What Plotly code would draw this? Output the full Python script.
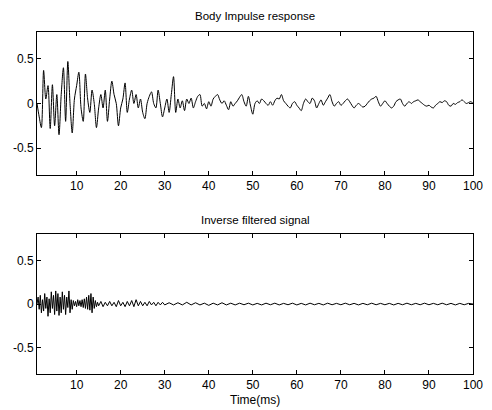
import numpy as np
import plotly.graph_objects as go
from plotly.subplots import make_subplots

# ---- data ----
# Body impulse response, sampled every 0.5 ms from 1 ms to 100 ms
t_top_start, t_top_step = 1.0, 0.5
body_response = [
    0.0, -0.15, -0.27, 0.37, 0.05, 0.2, -0.28, 0.21, -0.25, 0.1,
    -0.35, 0.1, 0.4, -0.2, 0.47, 0.0, -0.33, 0.05, 0.2, 0.35,
    -0.05, -0.2, 0.33, 0.05, -0.1, 0.15, 0.0, -0.27, -0.05, 0.1,
    -0.05, 0.15, -0.2, 0.05, 0.25, 0.1, 0.0, -0.25, -0.05, 0.05,
    0.23, -0.1, 0.05, 0.15, 0.0, 0.1, -0.05, 0.05, -0.1, -0.17,
    0.0, 0.08, 0.13, 0.0, -0.05, 0.15, 0.0, -0.15, -0.05, 0.05,
    -0.1, 0.1, 0.3, -0.1, 0.05, -0.05, 0.03, -0.08, 0.05, 0.0,
    0.06, -0.05, 0.02, 0.08, 0.1, -0.03, 0.0, -0.06, 0.02, -0.03,
    0.05, 0.08, 0.1, 0.04, 0.0, 0.03, -0.02, -0.07, 0.02, -0.03,
    0.0, 0.03, 0.07, 0.1, 0.02, -0.03, 0.08, -0.03, -0.12, 0.0,
    0.03, 0.0, 0.05, 0.03, 0.0, -0.02, 0.02, -0.02, 0.03, 0.06,
    0.05, 0.1, 0.03, 0.0, -0.03, -0.05, 0.0, 0.02, -0.02, -0.05,
    -0.08, 0.0, 0.05, 0.02, 0.0, 0.06, 0.03, -0.05, 0.0, 0.04,
    -0.02, 0.02, 0.06, 0.1, 0.02, -0.03, 0.0, 0.02, -0.02, 0.0,
    0.03, 0.05, 0.02, -0.02, -0.05, -0.02, 0.0, -0.02, -0.04, -0.03,
    0.0, 0.03, 0.05, 0.06, 0.08, 0.02, -0.03, 0.0, 0.03, 0.0,
    -0.03, -0.05, -0.03, 0.02, 0.04, 0.05, 0.0, -0.03, 0.0, 0.02,
    0.0, 0.02, 0.03, 0.04, 0.02, 0.0, -0.02, -0.03, -0.02, -0.04,
    -0.05, -0.02, 0.0, 0.02, 0.01, 0.03, 0.02, -0.02, -0.03, 0.0,
    -0.01, 0.01, 0.02, 0.04, 0.02, 0.0, 0.01, 0.02, 0.0,
]

# Inverse filtered signal: 1-15 ms every 0.25 ms, 15.5-30 ms every 0.5 ms, 31-100 ms every 1 ms
inv_seg1 = [
    0.0, 0.08, -0.06, 0.1, -0.1, 0.05, -0.08, 0.12, -0.05, 0.08,
    -0.14, 0.06, -0.1, 0.14, -0.05, 0.1, -0.12, 0.15, -0.08, 0.12,
    -0.13, 0.08, -0.1, 0.14, -0.06, 0.1, -0.12, 0.08, -0.04, 0.15,
    -0.1, 0.05, -0.06, 0.04, -0.02, 0.03, -0.03, 0.05, -0.02, 0.04,
    -0.03, 0.05, -0.04, 0.06, -0.05, 0.08, -0.06, 0.1, -0.07, 0.12,
    -0.1, 0.08, -0.05, 0.04, -0.03, 0.02, -0.02,
]
inv_seg2 = [
    0.03, -0.03, 0.02, -0.02, 0.03, -0.02, 0.02, -0.03, 0.04, -0.02,
    0.02, -0.03, 0.03, -0.02, 0.04, -0.03, 0.05, -0.02, 0.03, -0.02,
    0.02, -0.02, 0.03, -0.01, 0.02, -0.02, 0.02, -0.01, 0.02, -0.01,
]
inv_seg3 = [
    0.015, -0.01, 0.015, -0.01, 0.02, -0.01, 0.015, -0.01, 0.01, -0.015,
    0.01, -0.01, 0.015, -0.01, 0.01, -0.01, 0.01, -0.008, 0.01, -0.01,
    0.008, -0.01, 0.01, -0.008, 0.01, -0.01, 0.008, -0.008, 0.01, -0.01,
    0.008, -0.01, 0.01, -0.008, 0.008, -0.01, 0.01, -0.008, 0.008, -0.008,
    0.01, -0.008, 0.008, -0.01, 0.008, -0.008, 0.01, -0.008, 0.008, -0.008,
    0.008, -0.01, 0.008, -0.008, 0.01, -0.008, 0.008, -0.008, 0.01, -0.008,
    0.008, -0.008, 0.01, -0.008, 0.008, -0.01, 0.008, -0.008, 0.008, 0.0,
]

x_ticks = [10, 20, 30, 40, 50, 60, 70, 80, 90, 100]
y_ticks = [-0.5, 0, 0.5]
y_tick_labels = ["-0.5", "0", "0.5"]
titles = ["Body Impulse response", "Inverse filtered signal"]
x_label = "Time(ms)"

# ---- build ----
t_top = t_top_start + t_top_step * np.arange(len(body_response))
t_inv = np.concatenate([
    1.0 + 0.25 * np.arange(len(inv_seg1)),
    15.5 + 0.5 * np.arange(len(inv_seg2)),
    31.0 + 1.0 * np.arange(len(inv_seg3)),
])
inv_signal = inv_seg1 + inv_seg2 + inv_seg3

FONT = "Liberation Sans, Arial, sans-serif"

fig = make_subplots(rows=2, cols=1, vertical_spacing=0.17)
fig.add_trace(go.Scatter(x=t_top, y=body_response, mode="lines",
                         line=dict(color="black", width=1, shape="spline", smoothing=0.8),
                         showlegend=False), row=1, col=1)
fig.add_trace(go.Scatter(x=t_inv, y=inv_signal, mode="lines",
                         line=dict(color="black", width=1), showlegend=False), row=2, col=1)

axis_common = dict(showline=True, linecolor="black", linewidth=1, mirror="ticks",
                   ticks="inside", ticklen=4, tickcolor="black", showgrid=False,
                   zeroline=False, automargin=False,
                   tickfont=dict(family=FONT, size=12, color="black"))
for r in (1, 2):
    fig.update_xaxes(range=[1, 100], tickvals=x_ticks, **axis_common, row=r, col=1)
    fig.update_yaxes(range=[-0.8, 0.8], tickvals=y_ticks, ticktext=y_tick_labels,
                     **axis_common, row=r, col=1)

fig.update_layout(
    width=492, height=410,
    margin=dict(l=37, r=19, t=32, b=36, autoexpand=False),
    paper_bgcolor="white", plot_bgcolor="white",
    font=dict(family=FONT, size=11, color="black"),
    xaxis=dict(domain=[0, 1]), yaxis=dict(domain=[0.582, 1.0]),
    xaxis2=dict(domain=[0, 1]), yaxis2=dict(domain=[0.0, 0.409]),
)
fig.add_annotation(text=titles[0], xref="paper", yref="paper", x=0.5, y=1.0,
                   yshift=16, yanchor="middle", showarrow=False,
                   font=dict(family=FONT, size=11.5))
fig.add_annotation(text=titles[1], xref="paper", yref="paper", x=0.5, y=0.409,
                   yshift=14, yanchor="middle", showarrow=False,
                   font=dict(family=FONT, size=11.5))
fig.add_annotation(text=x_label, xref="paper", yref="paper", x=0.5, y=0.0,
                   yshift=-26, yanchor="middle", showarrow=False,
                   font=dict(family=FONT, size=12))

# remove the default page margin so the figure fills the window exactly
fig.write_html("out.html", config={"displayModeBar": False},
               post_script="document.body.style.margin='0';document.body.style.overflow='hidden';")
